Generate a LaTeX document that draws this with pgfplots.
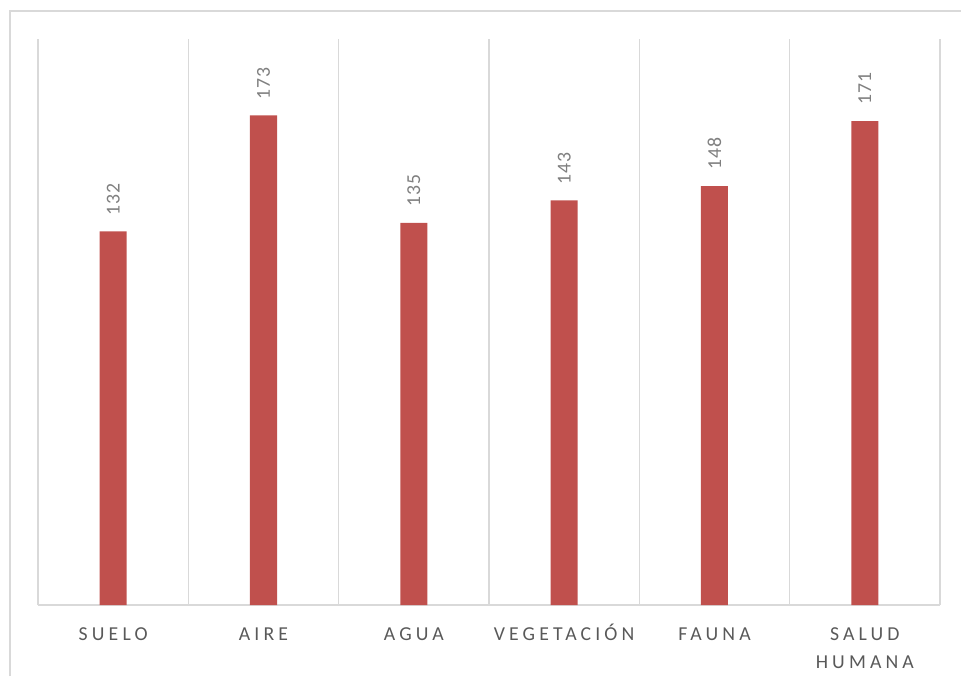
\documentclass[border=0pt]{standalone}
\usepackage{pgfplots}
\pgfplotsset{compat=1.18}
\usepackage{fontspec}
\setmainfont{Carlito}
\newfontfamily\spaced[LetterSpace=21]{Carlito}
\newfontfamily\lspaced[LetterSpace=5]{Carlito}
\definecolor{barred}{HTML}{C0504D}
\definecolor{gridc}{HTML}{D9D9D9}
\definecolor{labc}{HTML}{595959}
\definecolor{datc}{HTML}{7F7F7F}
\begin{document}
\begin{tikzpicture}
\useasboundingbox (0,0) rectangle (720.75pt,507pt);
\draw[gridc, line width=1.1pt] (7.5pt,0) -- (7.5pt,498.75pt) -- (720.75pt,498.75pt);
\begin{axis}[
  at={(28.5pt,53.25pt)}, anchor=south west,
  scale only axis, width=676.5pt, height=424.5pt,
  xmin=-0.5, xmax=5.5, ymin=0, ymax=200,
  axis y line=none, axis x line*=bottom,
  x axis line style={gridc, line width=1.1pt},
  xtick={0,1,2,3,4,5},
  xticklabels={SUELO, AIRE, AGUA, VEGETACIÓN, FAUNA, {\begin{tabular}[t]{@{}c@{}}SALUD\\HUMANA\end{tabular}}},
  major tick length=0pt, minor tick length=0pt,
  minor xtick={-0.5,0.5,1.5,2.5,3.5,4.5,5.5},
  xminorgrids, minor grid style={gridc, line width=1.1pt},
  ytick=\empty,
  /pgf/number format/assume math mode=true,
  xticklabel style={font=\spaced\fontsize{14.8}{21}\selectfont, text=labc, anchor=base, yshift=-26.25pt, inner sep=0pt},
  ybar, bar width=20.25pt, bar shift=0pt,
  nodes near coords,
  every node near coord/.append style={font=\lspaced\fontsize{14.8}{18}\selectfont, text=datc, rotate=90, anchor=west, inner sep=0pt, inner xsep=12pt},
]
\addplot[fill=barred, draw=none] coordinates {(0,132) (1,173) (2,135) (3,143) (4,148) (5,171)};
\end{axis}
\end{tikzpicture}
\end{document}
